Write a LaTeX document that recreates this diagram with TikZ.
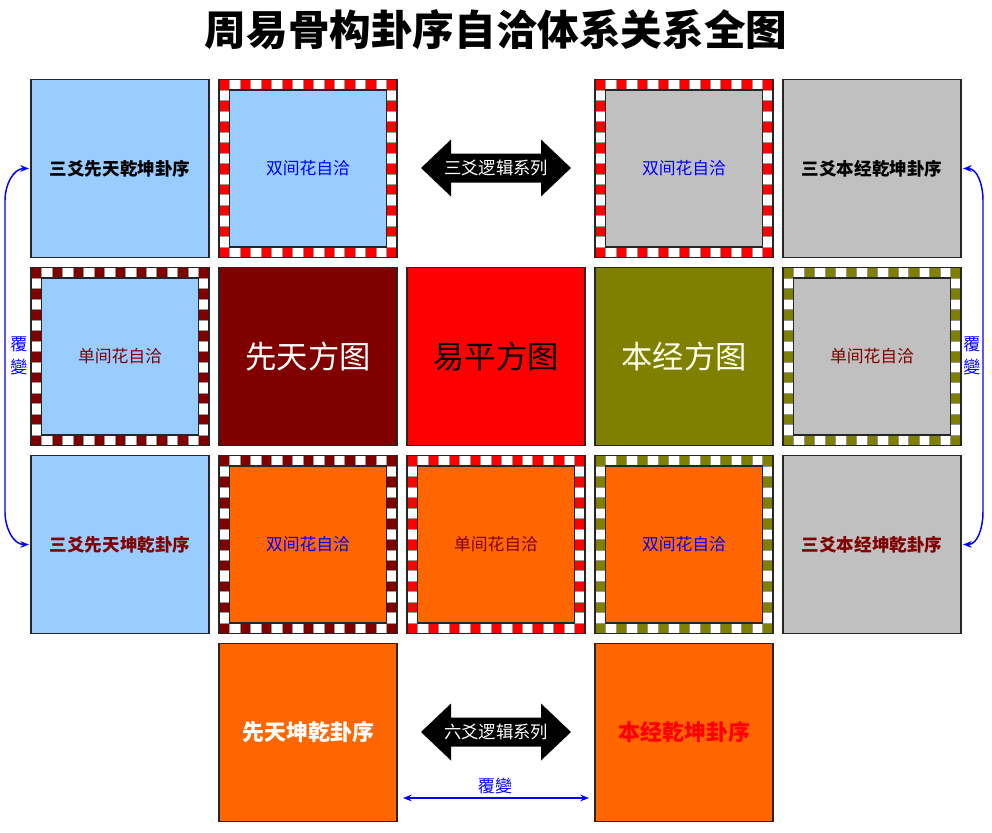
\documentclass[tikz,border=0pt]{standalone}
\usepackage{fontspec}
\setmainfont{Noto Sans CJK SC}
\usetikzlibrary{arrows.meta,calc}
\definecolor{lblue}{HTML}{99CCFF}
\definecolor{lgray}{HTML}{C0C0C0}
\definecolor{orng}{HTML}{FF6600}
\definecolor{dred}{HTML}{800000}
\definecolor{olv}{HTML}{808000}
\definecolor{rd}{HTML}{FF0000}
\definecolor{bl}{HTML}{0000FF}
\tikzset{
  cellbox/.style={draw=black!85, line width=1.1pt, minimum size=133.5pt, inner sep=0pt, outer sep=0pt},
  chk/.style={draw=black!40, line width=0.3pt},
  boldlbl/.style={font=\fontsize{13.2}{15}\selectfont\bfseries},
  smlbl/.style={font=\fontsize{12.6}{15}\selectfont},
  biglbl/.style={font=\fontsize{23.5}{26}\selectfont},
  btmlbl/.style={font=\fontsize{16.5}{19}\selectfont\bfseries},
  arrlbl/.style={font=\fontsize{13}{15}\selectfont, text=white},
  fblbl/.style={font=\fontsize{12.8}{17.2}\selectfont, text=bl, align=center},
  bluearrow/.style={draw=bl, line width=1.1pt, {Stealth[length=6.5pt,width=5pt]}-{Stealth[length=6.5pt,width=5pt]}},
}
\newcommand\ckframe[5]{%
  \node[cellbox, fill=white] (#1) at (#2,#3) {};
  \foreach \i in {0,2,...,16}{%
    \filldraw[chk, fill=#4] ($(#1.north west)+(\i*10.4706,0)$) rectangle ++(10.4706,10.4706);
    \filldraw[chk, fill=#4] ($(#1.south west)+(\i*10.4706,0)$) rectangle ++(10.4706,-10.4706);
    \filldraw[chk, fill=#4] ($(#1.north west)+(0,\i*10.4706)$) rectangle ++(10.4706,10.4706);
    \filldraw[chk, fill=#4] ($(#1.north east)+(0,\i*10.4706)$) rectangle ++(-10.4706,10.4706);
  }
  \draw[line width=1.1pt, black!85] (#1.north west) rectangle (#1.south east);
  \draw[line width=0.9pt, black!85, fill=#5] ($(#1.north west)+(10.4706,10.4706)$) rectangle ($(#1.south east)+(-10.4706,-10.4706)$);
}
\newcommand\dblarrow[2]{%
  \fill[black, shift={(#1,#2)}] (-75,0) -- (-45,-28.5) -- (-45,-14.5) -- (45,-14.5) -- (45,-28.5) -- (75,0)
    -- (45,28.5) -- (45,14.5) -- (-45,14.5) -- (-45,28.5) -- cycle;
}
\begin{document}
\begin{tikzpicture}[x=0.75pt, y=-0.75pt]
\useasboundingbox (0,0) rectangle (992,832);
\fill[white] (0,0) rectangle (992,832);

\node[font=\fontsize{31.2}{36}\selectfont\bfseries] (title) at (496,30) {周易骨构卦序自洽体系关系全图};

% row 0
\node[cellbox, fill=lblue] (c00) at (120,168.5) {};
\ckframe{c01}{308}{168.5}{rd}{lblue}
\ckframe{c03}{684}{168.5}{rd}{lgray}
\node[cellbox, fill=lgray] (c04) at (872,168.5) {};
% row 1
\ckframe{c10}{120}{356.5}{dred}{lblue}
\node[cellbox, fill=dred] (c11) at (308,356.5) {};
\node[cellbox, fill=rd] (c12) at (496,356.5) {};
\node[cellbox, fill=olv] (c13) at (684,356.5) {};
\ckframe{c14}{872}{356.5}{olv}{lgray}
% row 2
\node[cellbox, fill=lblue] (c20) at (120,544.5) {};
\ckframe{c21}{308}{544.5}{dred}{orng}
\ckframe{c22}{496}{544.5}{rd}{orng}
\ckframe{c23}{684}{544.5}{olv}{orng}
\node[cellbox, fill=lgray] (c24) at (872,544.5) {};
% row 3
\node[cellbox, fill=orng] (c31) at (308,732.5) {};
\node[cellbox, fill=orng] (c33) at (684,732.5) {};

% labels
\node[boldlbl, text=black] (t00) at (c00) {三爻先天乾坤卦序};
\node[smlbl, text=bl] (t01) at (c01) {双间花自洽};
\node[smlbl, text=bl] (t03) at (c03) {双间花自洽};
\node[boldlbl, text=black] (t04) at (c04) {三爻本经乾坤卦序};
\node[smlbl, text=dred] (t10) at (c10) {单间花自洽};
\node[biglbl, text=white] (t11) at (c11) {先天方图};
\node[biglbl, text=black] (t12) at (c12) {易平方图};
\node[biglbl, text=white!92!yellow] (t13) at (c13) {本经方图};
\node[smlbl, text=dred] (t14) at (c14) {单间花自洽};
\node[boldlbl, text=dred] (t20) at (c20) {三爻先天坤乾卦序};
\node[smlbl, text=bl] (t21) at (c21) {双间花自洽};
\node[smlbl, text=dred] (t22) at (c22) {单间花自洽};
\node[smlbl, text=bl] (t23) at (c23) {双间花自洽};
\node[boldlbl, text=dred] (t24) at (c24) {三爻本经坤乾卦序};
\node[btmlbl, text=white] (t31) at (c31) {先天坤乾卦序};
\node[btmlbl, text=rd] (t33) at (c33) {本经乾坤卦序};

% black double arrows
\dblarrow{496}{168}
\node[arrlbl] (a1) at (496,168) {三爻逻辑系列};
\dblarrow{496}{732}
\node[arrlbl] (a2) at (496,732) {六爻逻辑系列};

% blue connectors
\coordinate (la) at (5,200);
\coordinate (lb) at (5,512);
\draw[bluearrow] ($(c00.west)+(-2,0)$) to[out=180,in=90] (la) -- (lb) to[out=-90,in=180] ($(c20.west)+(-2,0)$);
\node[fblbl] (fl) at (19,356) {覆\\變};

\coordinate (ra) at (983,200);
\coordinate (rb) at (983,512);
\draw[bluearrow] ($(c04.east)+(2,0)$) to[out=0,in=90] (ra) -- (rb) to[out=-90,in=0] ($(c24.east)+(2,0)$);
\node[fblbl] (fr) at (972,356) {覆\\變};

\coordinate (bm) at (496,798);
\draw[bluearrow] ($(c31.east |- bm)+(6,0)$) -- ($(c33.west |- bm)+(-6,0)$);
\node[fblbl] (fb) at (495,786) {覆變};
\end{tikzpicture}
\end{document}
